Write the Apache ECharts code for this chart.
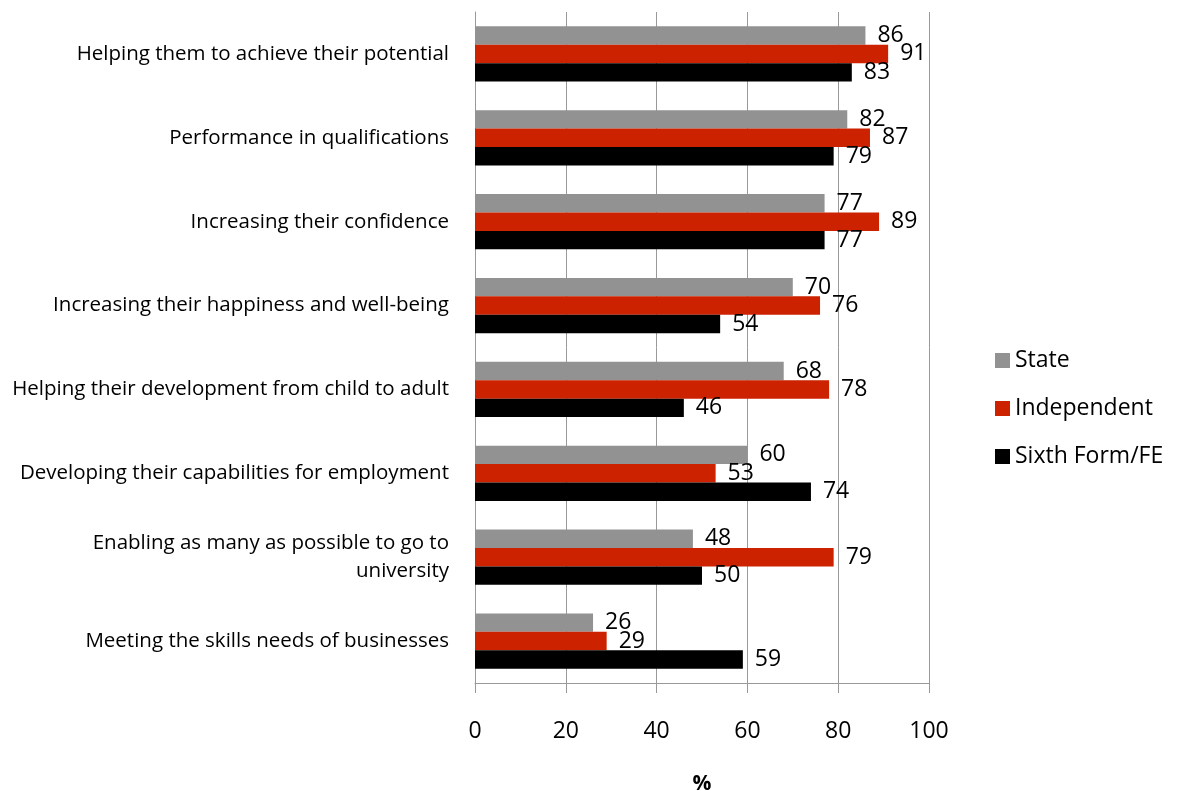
<!DOCTYPE html>
<html>
<head>
<meta charset="utf-8">
<script src="https://cdn.jsdelivr.net/npm/echarts@6/dist/echarts.min.js"></script>
<style>
  html, body { margin: 0; padding: 0; background: #fff; }
  #chart { width: 1184px; height: 791px; }
</style>
</head>
<body>
<div id="chart"></div>
<script>
(function () {

	// categories, top to bottom
	var categories = [
		'Helping them to achieve their potential',
		'Performance in qualifications',
		'Increasing their confidence',
		'Increasing their happiness and well-being',
		'Helping their development from child to adult',
		'Developing their capabilities for employment',
		'Enabling as many as possible to go to\nuniversity',
		'Meeting the skills needs of businesses'
	];
	var stateValues = [86, 82, 77, 70, 68, 60, 48, 26];
	var independentValues = [91, 87, 89, 76, 78, 53, 79, 29];
	var sixthFormValues = [83, 79, 77, 54, 46, 74, 50, 59];
	var xTicks = [0, 20, 40, 60, 80, 100];

	var font = '"Open Sans", "Liberation Sans", sans-serif';

	function makeSeries(name, data, color) {
		return {
			name: name,
			type: 'bar',
			data: data,
			barGap: '0%',
			barCategoryGap: '34%',
			itemStyle: { color: color },
			label: {
				show: true,
				position: 'right',
				distance: 12,
				color: '#000',
				fontSize: 23,
				fontFamily: font
			}
		};
	}

	var chart = echarts.init(document.getElementById('chart'));
	chart.setOption({
		animation: false,
		textStyle: { fontFamily: font },
		grid: {
			left: 475,
			right: 255,
			top: 12,
			bottom: 108,
			outerBoundsMode: 'none',
			containLabel: false
		},
		legend: {
			orient: 'vertical',
			left: 990,
			top: 344,
			itemWidth: 15,
			itemHeight: 15,
			itemGap: 25,
			icon: 'rect',
			textStyle: { fontSize: 23, color: '#000', fontFamily: font },
			data: ['State', 'Independent', 'Sixth Form/FE']
		},
		xAxis: {
			type: 'value',
			min: xTicks[0],
			max: xTicks[xTicks.length - 1],
			interval: 20,
			name: '%',
			nameLocation: 'middle',
			nameGap: 91,
			nameTextStyle: { fontSize: 21, fontWeight: 'bold', color: '#000' },
			axisLine: { show: true, lineStyle: { color: '#999' } },
			axisTick: { show: true, length: 10, lineStyle: { color: '#999' } },
			axisLabel: { fontSize: 23, color: '#000', margin: 37 },
			splitLine: { show: true, lineStyle: { color: '#999', width: 1 } }
		},
		yAxis: {
			type: 'category',
			inverse: true,
			data: categories,
			axisLine: { show: true, lineStyle: { color: '#999' } },
			axisTick: { show: false },
			axisLabel: {
				fontSize: 20.5,
				color: '#000',
				margin: 26,
				align: 'right',
				lineHeight: 28
			}
		},
		series: [
			makeSeries('State', stateValues, '#929292'),
			makeSeries('Independent', independentValues, '#cc2200'),
			makeSeries('Sixth Form/FE', sixthFormValues, '#000000')
		]
	});
})();
</script>
</body>
</html>
